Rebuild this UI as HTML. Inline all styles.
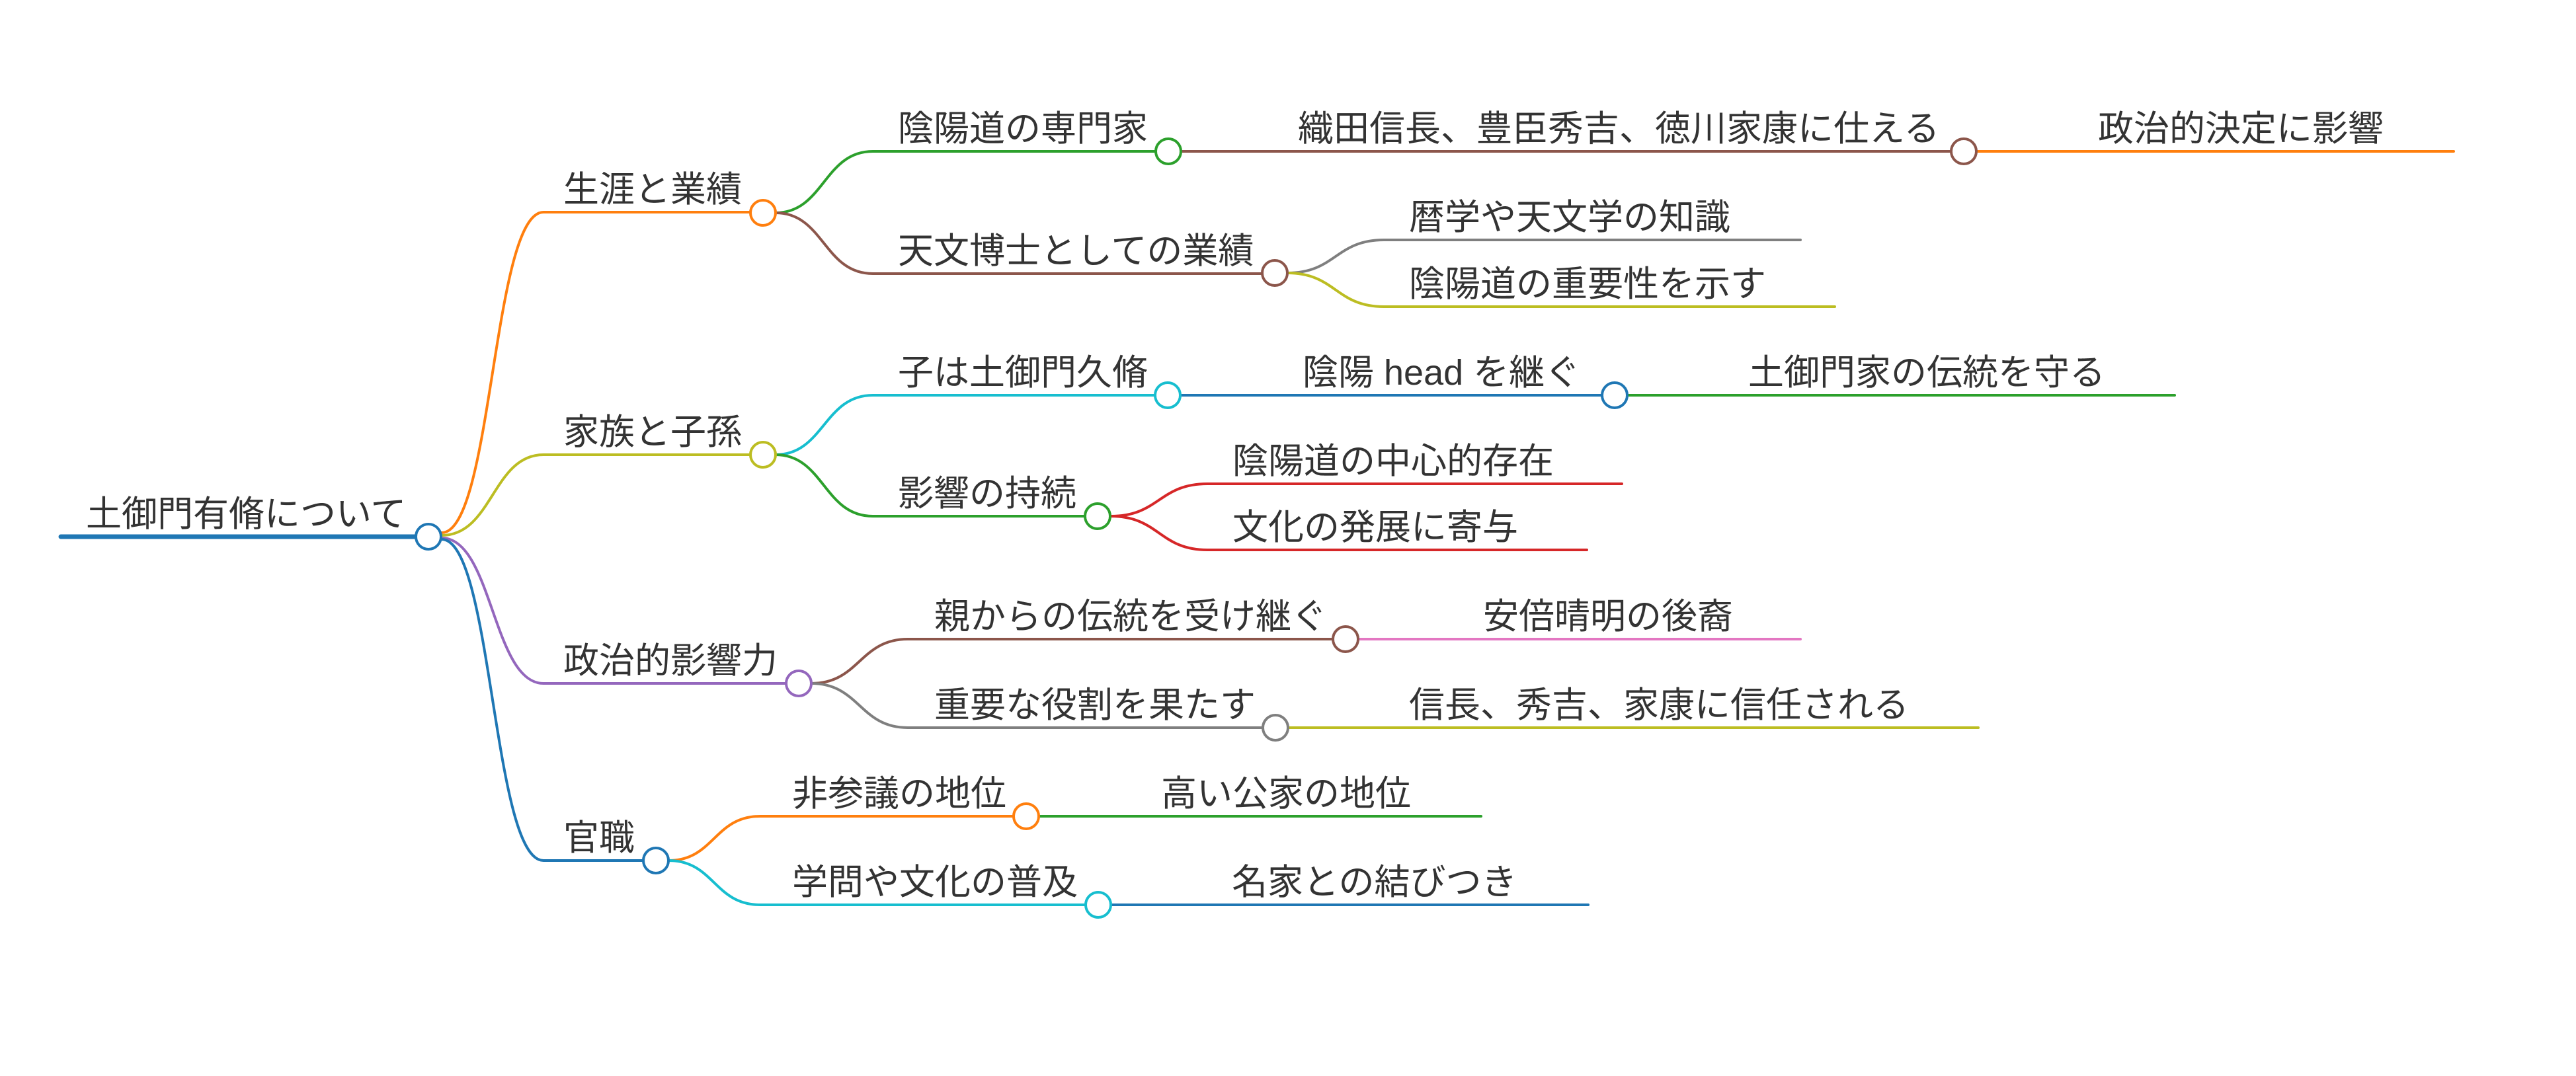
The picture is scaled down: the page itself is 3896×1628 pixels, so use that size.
<!DOCTYPE html>
<html><head><meta charset="utf-8"><style>
html,body{margin:0;padding:0;background:#fff;}
svg{display:block;}
text{font-family:"Liberation Sans","Noto Sans CJK JP",sans-serif;font-size:54px;fill:#333;}
</style></head><body>
<svg width="3896" height="1628" viewBox="0 0 3896 1628" xmlns="http://www.w3.org/2000/svg">
<g fill="none" stroke-linecap="round">
<line x1="92" y1="812" x2="628" y2="812" stroke="#1f77b4" stroke-width="7"/>
<path d="M668,806 C745,806 745,321 822,321 L1135,321" stroke="#ff7f0e" stroke-width="4"/>
<path d="M668,810 C745,810 745,688 822,688 L1135,688" stroke="#bcbd22" stroke-width="4"/>
<path d="M668,814 C745,814 745,1034 822,1034 L1189,1034" stroke="#9467bd" stroke-width="4"/>
<path d="M668,816 C745,816 745,1302 822,1302 L973,1302" stroke="#1f77b4" stroke-width="4"/>
<path d="M1173,322 C1246,322 1246,229 1320,229 L1748,229" stroke="#2ca02c" stroke-width="4"/>
<path d="M1173,322 C1246,322 1246,414 1320,414 L1909,414" stroke="#8c564b" stroke-width="4"/>
<line x1="1787" y1="229" x2="2951" y2="229" stroke="#8c564b" stroke-width="4"/>
<line x1="2990" y1="229" x2="3711" y2="229" stroke="#ff7f0e" stroke-width="4"/>
<path d="M1947,413 C2020,413 2020,363 2093,363 L2723,363" stroke="#7f7f7f" stroke-width="4"/>
<path d="M1947,413 C2020,413 2020,464 2093,464 L2775,464" stroke="#bcbd22" stroke-width="4"/>
<path d="M1173,688 C1246,688 1246,598 1320,598 L1747,598" stroke="#17becf" stroke-width="4"/>
<path d="M1173,688 C1246,688 1246,781 1320,781 L1641,781" stroke="#2ca02c" stroke-width="4"/>
<line x1="1786" y1="598" x2="2423" y2="598" stroke="#1f77b4" stroke-width="4"/>
<line x1="2462" y1="598" x2="3289" y2="598" stroke="#2ca02c" stroke-width="4"/>
<path d="M1680,781 C1753,781 1753,732 1826,732 L2453,732" stroke="#d62728" stroke-width="4"/>
<path d="M1680,781 C1753,781 1753,832 1826,832 L2400,832" stroke="#d62728" stroke-width="4"/>
<path d="M1227,1034 C1300,1034 1300,967 1373,967 L2016,967" stroke="#8c564b" stroke-width="4"/>
<path d="M1227,1034 C1300,1034 1300,1101 1373,1101 L1910,1101" stroke="#7f7f7f" stroke-width="4"/>
<line x1="2054" y1="967" x2="2723" y2="967" stroke="#e377c2" stroke-width="4"/>
<line x1="1948" y1="1101" x2="2992" y2="1101" stroke="#bcbd22" stroke-width="4"/>
<path d="M1011,1302 C1080,1302 1080,1235 1150,1235 L1533,1235" stroke="#ff7f0e" stroke-width="4"/>
<path d="M1011,1302 C1080,1302 1080,1369 1150,1369 L1642,1369" stroke="#17becf" stroke-width="4"/>
<line x1="1571" y1="1235" x2="2240" y2="1235" stroke="#2ca02c" stroke-width="4"/>
<line x1="1680" y1="1369" x2="2402" y2="1369" stroke="#1f77b4" stroke-width="4"/>
</g>
<g fill="#fff" stroke-width="4">
<circle cx="648" cy="812" r="19" stroke="#1f77b4"/>
<circle cx="1154" cy="322" r="19" stroke="#ff7f0e"/>
<circle cx="1154" cy="688" r="19" stroke="#bcbd22"/>
<circle cx="1208" cy="1034" r="19" stroke="#9467bd"/>
<circle cx="992" cy="1302" r="19" stroke="#1f77b4"/>
<circle cx="1767" cy="229" r="19" stroke="#2ca02c"/>
<circle cx="2970" cy="229" r="19" stroke="#8c564b"/>
<circle cx="1928" cy="413" r="19" stroke="#8c564b"/>
<circle cx="1766" cy="598" r="19" stroke="#17becf"/>
<circle cx="2442" cy="598" r="19" stroke="#1f77b4"/>
<circle cx="1660" cy="781" r="19" stroke="#2ca02c"/>
<circle cx="2035" cy="967" r="19" stroke="#8c564b"/>
<circle cx="1929" cy="1101" r="19" stroke="#7f7f7f"/>
<circle cx="1552" cy="1235" r="19" stroke="#ff7f0e"/>
<circle cx="1661" cy="1369" r="19" stroke="#17becf"/>
</g>
<g>
<text x="130" y="796">土御門有脩について</text>
<text x="852" y="305">生涯と業績</text>
<text x="852" y="672">家族と子孫</text>
<text x="852" y="1018">政治的影響力</text>
<text x="852" y="1286">官職</text>
<text x="1358" y="213">陰陽道の専門家</text>
<text x="1963" y="213">織田信長、豊臣秀吉、徳川家康に仕える</text>
<text x="3173" y="213">政治的決定に影響</text>
<text x="1358" y="398">天文博士としての業績</text>
<text x="2131" y="347">暦学や天文学の知識</text>
<text x="2131" y="448">陰陽道の重要性を示す</text>
<text x="1358" y="582">子は土御門久脩</text>
<text x="1970" y="582">陰陽 head を継ぐ</text>
<text x="2644" y="582">土御門家の伝統を守る</text>
<text x="1358" y="765">影響の持続</text>
<text x="1864" y="716">陰陽道の中心的存在</text>
<text x="1864" y="816">文化の発展に寄与</text>
<text x="1413" y="951">親からの伝統を受け継ぐ</text>
<text x="2243" y="951">安倍晴明の後裔</text>
<text x="1413" y="1085">重要な役割を果たす</text>
<text x="2131" y="1085">信長、秀吉、家康に信任される</text>
<text x="1198" y="1219">非参議の地位</text>
<text x="1756" y="1219">高い公家の地位</text>
<text x="1198" y="1353">学問や文化の普及</text>
<text x="1863" y="1353">名家との結びつき</text>
</g>
</svg>
</body></html>
